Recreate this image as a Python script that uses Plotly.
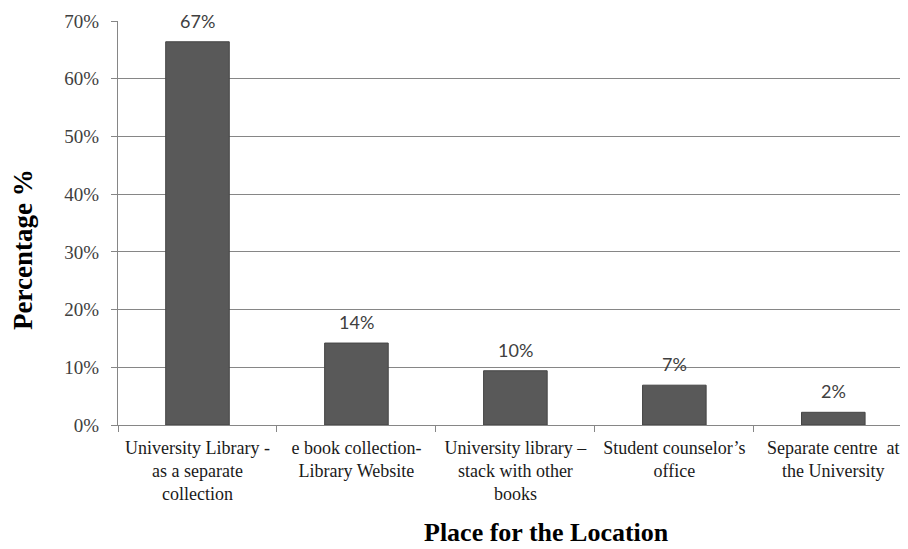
import plotly.graph_objects as go

categories = [
    "University Library -<br>as a separate<br>collection",
    "e book collection-<br>Library Website",
    "University library –<br>stack with other<br>books",
    "Student counselor’s<br>office",
    "Separate centre  at<br>the University",
]
values = [66.4, 14.2, 9.4, 6.9, 2.2]
labels = ["67%", "14%", "10%", "7%", "2%"]
y_ticks = [0, 10, 20, 30, 40, 50, 60, 70]
y_tick_text = ["0%", "10%", "20%", "30%", "40%", "50%", "60%", "70%"]

# page body has an 8px margin, so the figure is offset by (8, 8)
OFF = 8
L, T, PW, PH = 118 - OFF, 21 - OFF, 790, 404

fig = go.Figure()
fig.add_trace(go.Bar(
    x=categories, y=values, width=0.4,
    marker=dict(color="#595959", line=dict(color="#454545", width=1)),
    hoverinfo="skip",
))

for c, v, t in zip(categories, values, labels):
    fig.add_annotation(x=c, y=v, text=t, showarrow=False, yshift=21,
                       yanchor="middle", font=dict(family="Lato", size=18, color="#404040"))

fig.add_annotation(text="<b>Percentage %</b>", xref="paper", yref="paper",
                   x=(23 - 118) / PW, y=(425 - 250) / PH, textangle=-90, showarrow=False,
                   xanchor="center", yanchor="middle",
                   font=dict(family="Liberation Serif", size=27, color="#000000"))
fig.add_annotation(text="<b>Place for the Location</b>", xref="paper", yref="paper",
                   x=(546 - 118) / PW, y=-(532 - 425) / PH, showarrow=False,
                   xanchor="center", yanchor="middle",
                   font=dict(family="Liberation Serif", size=26, color="#000000"))

fig.update_layout(
    width=908 - OFF, height=549 - OFF,
    margin=dict(l=L, r=908 - OFF - L - PW, t=T, b=549 - OFF - T - PH, autoexpand=False),
    paper_bgcolor="white", plot_bgcolor="white",
    showlegend=False,
    xaxis=dict(
        type="category", range=[-0.5, 4.47],
        showline=True, linecolor="#868686", linewidth=1,
        ticks="outside", tickson="boundaries", ticklen=6, tickcolor="#868686",
        tickfont=dict(family="Liberation Serif", size=18, color="#1a1a1a"),
        showgrid=False, ticklabelstandoff=6, automargin=False,
    ),
    yaxis=dict(
        range=[0, 70], tickvals=y_ticks, ticktext=y_tick_text,
        showline=True, linecolor="#868686", linewidth=1,
        ticks="outside", ticklen=6, tickcolor="#868686",
        showgrid=True, gridcolor="#868686", gridwidth=1,
        zeroline=False, automargin=False,
        tickfont=dict(family="Liberation Serif", size=19, color="#404040"),
        ticklabelstandoff=8,
    ),
)

fig.write_html("out.html")
